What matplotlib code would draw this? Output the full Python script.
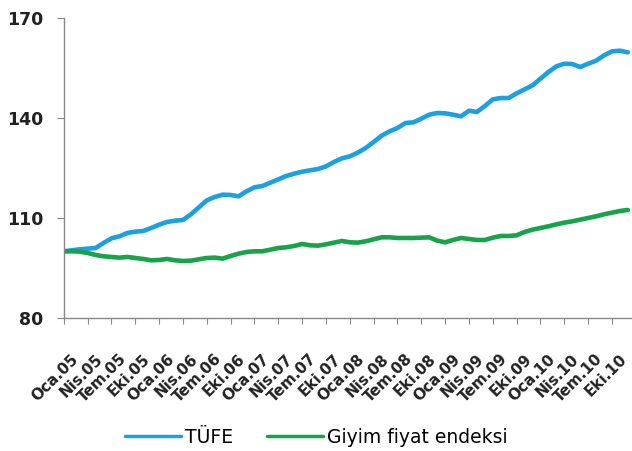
import numpy as np
import matplotlib
matplotlib.use("Agg")
import matplotlib.pyplot as plt

# aylik veriler, Ocak 2005 - Aralik 2010 (Oca.05 = 100)
tufe = [100.0, 100.3, 100.6, 100.8, 101.0, 102.5, 103.9, 104.5, 105.5, 105.9, 106.1, 107.0,
        108.0, 108.8, 109.2, 109.4, 111.1, 113.2, 115.3, 116.3, 117.0, 116.9, 116.5, 118.0,
        119.2, 119.6, 120.6, 121.6, 122.6, 123.3, 123.9, 124.3, 124.7, 125.5, 126.8, 127.9,
        128.5, 129.6, 131.0, 132.8, 134.7, 136.0, 137.0, 138.5, 138.7, 139.8, 141.0, 141.5,
        141.4, 141.0, 140.5, 142.2, 141.8, 143.6, 145.6, 146.0, 146.0, 147.4, 148.6, 149.8,
        151.8, 153.8, 155.5, 156.3, 156.2, 155.3, 156.3, 157.2, 158.8, 160.0, 160.2, 159.7]
giyim = [100.0, 100.0, 99.9, 99.5, 98.9, 98.5, 98.3, 98.1, 98.3, 98.0, 97.7, 97.3,
         97.4, 97.7, 97.3, 97.1, 97.2, 97.6, 98.0, 98.1, 97.8, 98.6, 99.3, 99.8,
         100.0, 100.0, 100.5, 101.0, 101.2, 101.6, 102.2, 101.8, 101.7, 102.1, 102.6, 103.1,
         102.7, 102.6, 103.0, 103.6, 104.2, 104.2, 104.0, 104.0, 104.0, 104.1, 104.2, 103.2,
         102.7, 103.4, 104.0, 103.7, 103.4, 103.4, 104.1, 104.6, 104.6, 104.8, 105.8, 106.5,
         107.0, 107.5, 108.1, 108.6, 109.0, 109.5, 110.0, 110.5, 111.1, 111.6, 112.1, 112.4]

aylar = ["Oca", "Nis", "Tem", "Eki"]
yillar = ["05", "06", "07", "08", "09", "10"]
etiketler = [a + "." + y for y in yillar for a in aylar]

y_ticks = [80, 110, 140, 170]

x = np.arange(len(tufe))

fig = plt.figure(figsize=(6.32, 4.51), dpi=100)
ax = fig.add_axes([0.101, 0.295, 0.905, 0.665])

ax.plot(x, tufe, color="#1BA1E2", lw=3.3, label="TÜFE", solid_capstyle="round")
ax.plot(x, giyim, color="#17A34A", lw=3.3, label="Giyim fiyat endeksi", solid_capstyle="round")

ax.set_ylim(80, 170)
ax.set_xlim(0, 72)
ax.set_yticks(y_ticks)
ax.set_yticklabels([str(v) for v in y_ticks], fontsize=12.5, fontweight="bold", color="#222222")

ax.set_xticks(np.arange(0, 72, 3))
ax.set_xticklabels([])
ax.set_xticks(np.arange(0, 72, 3) + 0.9, minor=True)
ax.set_xticklabels(etiketler, minor=True, rotation=45, ha="right", va="top",
                   rotation_mode="anchor", fontsize=11, fontweight="bold", color="#222222")
ax.tick_params(axis="x", which="major", length=4, color="#888888")
ax.tick_params(axis="x", which="minor", length=0, pad=24)
ax.tick_params(axis="y", length=5, color="#888888", pad=10)

for s in ["top", "right"]:
    ax.spines[s].set_visible(False)
for s in ["left", "bottom"]:
    ax.spines[s].set_color("#888888")
    ax.spines[s].set_linewidth(1.0)

leg = fig.legend(loc="center", bbox_to_anchor=(0.5, 0.031), ncol=2, frameon=False,
                 handlelength=3.0, handletextpad=0.2, columnspacing=1.8,
                 prop={"size": 13.5})
for line in leg.get_lines():
    line.set_linewidth(2.5)

fig.savefig("out.png", dpi=100)
